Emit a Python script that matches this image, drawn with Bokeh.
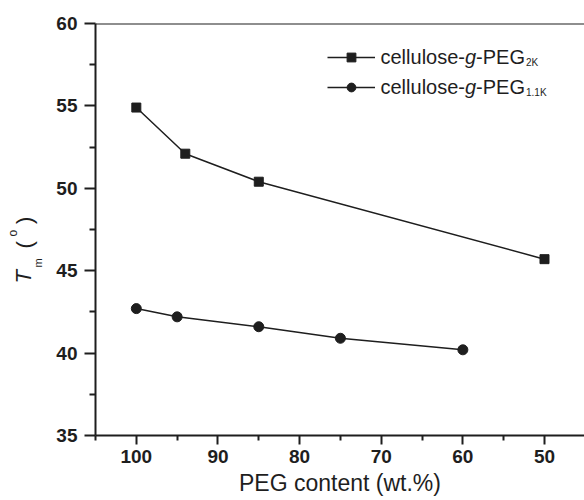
from math import pi
from bokeh.plotting import figure
from bokeh.layouts import row
from bokeh.models import (Range1d, FixedTicker, Label, Legend, LegendItem, Span)
from bokeh.core.properties import value
from bokeh.embed import file_html
from bokeh.resources import INLINE

# ---- data ----
peg2k_x = [100, 94, 85, 50]
peg2k_y = [54.9, 52.1, 50.4, 45.7]
peg11k_x = [100, 95, 85, 75, 60]
peg11k_y = [42.7, 42.2, 41.6, 40.9, 40.2]
x_ticks = [100, 90, 80, 70, 60, 50]
x_minor = [105, 95, 85, 75, 65, 55, 45]
y_ticks = [35, 40, 45, 50, 55, 60]
y_minor = [37.5, 42.5, 47.5, 52.5, 57.5]
x_title = "PEG content (wt.%)"

INK = "#1e1e1e"
FONT = "Liberation Sans"
LEFT_W = 50
FRAME_TOP, FRAME_BOTTOM = 23, 435

p = figure(width=584 - LEFT_W, height=500, output_backend="svg", toolbar_location=None,
           x_range=Range1d(105, 45.1), y_range=Range1d(35, 60),
           min_border_left=95 - LEFT_W, min_border_right=0, min_border_top=FRAME_TOP,
           min_border_bottom=500 - FRAME_BOTTOM)
p.outline_line_color = None
p.grid.visible = False

for ax in (p.xaxis[0], p.yaxis[0]):
    ax.axis_line_width = 2
    ax.axis_line_color = INK
    ax.major_tick_line_width = 2
    ax.major_tick_line_color = INK
    ax.minor_tick_line_width = 2
    ax.minor_tick_line_color = INK
    ax.major_tick_in = 0
    ax.minor_tick_in = 0
    ax.major_label_text_font = FONT
    ax.major_label_text_font_style = "bold"
    ax.major_label_text_font_size = "19px"
    ax.major_label_text_color = INK

p.xaxis[0].ticker = FixedTicker(ticks=x_ticks, minor_ticks=x_minor)
p.xaxis[0].major_tick_out = 9
p.xaxis[0].minor_tick_out = 5
p.xaxis[0].major_label_standoff = 5
p.xaxis[0].axis_label = x_title
p.xaxis[0].axis_label_text_font = FONT
p.xaxis[0].axis_label_text_font_style = "normal"
p.xaxis[0].axis_label_text_font_size = "23px"
p.xaxis[0].axis_label_text_color = INK
p.xaxis[0].axis_label_standoff = 4

p.yaxis[0].ticker = FixedTicker(ticks=y_ticks, minor_ticks=y_minor)
p.yaxis[0].major_tick_out = 11
p.yaxis[0].minor_tick_out = 6
p.yaxis[0].major_label_standoff = 7

# top border
p.add_layout(Span(location=60, dimension="width", line_color=INK, line_width=2))

# ---- series ----
l1 = p.line(peg2k_x, peg2k_y, line_color=INK, line_width=1.5)
s1 = p.scatter(peg2k_x, peg2k_y, marker="square", size=9, fill_color=INK, line_color=INK)
l2 = p.line(peg11k_x, peg11k_y, line_color=INK, line_width=1.5)
s2 = p.scatter(peg11k_x, peg11k_y, marker="circle", size=10, fill_color=INK, line_color=INK)

# ---- legend glyphs ----
legend = Legend(items=[LegendItem(label=value(" "), renderers=[l1, s1]),
                       LegendItem(label=value(" "), renderers=[l2, s2])],
                location=(232, 337), glyph_width=48, glyph_height=22,
                label_height=22, spacing=8, padding=0, margin=0,
                border_line_color=None, background_fill_alpha=0,
                label_text_font_size="13px", label_standoff=0)
p.add_layout(legend)


def txt(fig, x, y, t, size, style="normal", angle=0.0, units="screen"):
    fig.add_layout(Label(x=x, y=y, x_units=units, y_units=units, text=t,
                         text_font=FONT, text_font_size=size, text_font_style=style,
                         text_color=INK, text_align="left", text_baseline="alphabetic",
                         angle=angle))


# ---- legend texts (frame-relative screen units) ----
for (yb, sub) in ((379, "2K"), (349, "1.1K")):
    txt(p, 285, yb, "cellulose-", "20px")
    txt(p, 369.5, yb, "g", "20px", "italic")
    txt(p, 380.6, yb, "-PEG", "20px")
    txt(p, 430.5, yb - 6, sub, "10px")

# ---- y axis title panel: T_m ( o ) ; frame aligned with main frame ----
yt = figure(width=LEFT_W, height=500, output_backend="svg", toolbar_location=None,
            x_range=Range1d(0, LEFT_W), y_range=Range1d(FRAME_BOTTOM, FRAME_TOP),
            x_axis_type=None, y_axis_type=None,
            min_border_left=0, min_border_right=0, min_border_top=FRAME_TOP,
            min_border_bottom=500 - FRAME_BOTTOM)
yt.outline_line_color = None
yt.grid.visible = False
txt(yt, 22.5, 283, "T", "22px", "italic", pi / 2, "data")
txt(yt, 37, 267, "m", "11px", "normal", pi / 2, "data")
txt(yt, 23.5, 248, "(", "22px", "normal", pi / 2, "data")
txt(yt, 12, 236, "o", "12px", "normal", pi / 2, "data")
txt(yt, 23.5, 223.5, ")", "22px", "normal", pi / 2, "data")

layout = row(yt, p)
open("out.html", "w").write(file_html(layout, INLINE))
